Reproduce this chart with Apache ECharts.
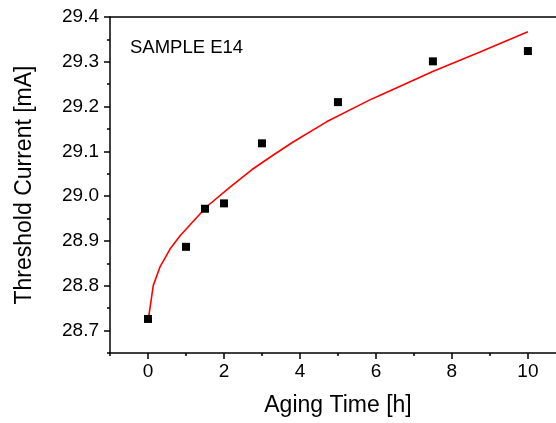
<!DOCTYPE html>
<html>
<head>
<meta charset="utf-8">
<script src="https://cdn.jsdelivr.net/npm/echarts@6/dist/echarts.min.js"></script>
<style>html,body{margin:0;padding:0;background:#fff;}#c{width:556px;height:423px;}</style>
</head>
<body>
<div id="c"></div>
<script>
// Measured data points
const agingTime = [0, 1, 1.5, 2, 3, 5, 7.5, 10];
const thresholdCurrent = [28.726, 28.887, 28.972, 28.984, 29.118, 29.21, 29.301, 29.324];
// Fit curve
const fitX = [0, 0.14, 0.32, 0.58, 0.84, 1.15, 1.55, 2.16, 2.73, 3.3, 3.82, 4.7, 5.84, 6.1, 7.51, 8.74, 10];
const fitY = [28.72, 28.801, 28.843, 28.882, 28.911, 28.94, 28.977, 29.02, 29.059, 29.092, 29.121, 29.166, 29.215, 29.225, 29.279, 29.322, 29.367];
// Ticks
const xMajorTicks = [0, 2, 4, 6, 8, 10];
const xMinorTicks = [-1, 1, 3, 5, 7, 9];
const yMajorTicks = [28.7, 28.8, 28.9, 29.0, 29.1, 29.2, 29.3, 29.4];
const yMinorTicks = [28.65, 28.75, 28.85, 28.95, 29.05, 29.15, 29.25, 29.35];
const sampleLabel = 'SAMPLE E14';

const FONT = 'Liberation Sans, Arial, sans-serif';
const black = '#000';
const chart = echarts.init(document.getElementById('c'));
const xr = {min: -1, max: 10.74};
const yr = {min: 28.65, max: 29.4};

chart.setOption({
  animation: false,
  backgroundColor: '#fff',
  grid: {left: 110, top: 17, bottom: 70, right: 0, containLabel: false},
  xAxis: [
    {
      type: 'value', position: 'bottom', ...xr,
      name: 'Aging Time [h]', nameLocation: 'middle', nameGap: 41,
      nameTextStyle: {fontFamily: FONT, fontSize: 23, color: black, padding: [0, 0, 0, 10]},
      axisLine: {show: true, onZero: false, lineStyle: {color: black, width: 1.5}},
      axisTick: {show: true, inside: false, length: 6, customValues: xMajorTicks, lineStyle: {color: black, width: 1.5}},
      axisLabel: {show: true, margin: 9, customValues: xMajorTicks, fontFamily: FONT, fontSize: 19, color: black},
      splitLine: {show: false}
    },
    {
      type: 'value', position: 'bottom', ...xr,
      axisLine: {show: false, onZero: false},
      axisTick: {show: true, inside: false, length: 3, customValues: xMinorTicks, lineStyle: {color: black, width: 1.5}},
      axisLabel: {show: false},
      splitLine: {show: false}
    },
    {
      type: 'value', position: 'top', ...xr,
      axisLine: {show: true, onZero: false, lineStyle: {color: black, width: 1.5}},
      axisTick: {show: false}, axisLabel: {show: false}, splitLine: {show: false}
    }
  ],
  yAxis: [
    {
      type: 'value', position: 'left', ...yr,
      name: 'Threshold Current [mA]', nameLocation: 'middle', nameGap: 74, nameRotate: 90,
      nameTextStyle: {fontFamily: FONT, fontSize: 23, color: black},
      axisLine: {show: true, onZero: false, lineStyle: {color: black, width: 1.5}},
      axisTick: {show: true, inside: false, length: 6, customValues: yMajorTicks, lineStyle: {color: black, width: 1.5}},
      axisLabel: {show: true, margin: 11, customValues: yMajorTicks, fontFamily: FONT, fontSize: 19, color: black,
        formatter: v => v.toFixed(1)},
      splitLine: {show: false}
    },
    {
      type: 'value', position: 'left', ...yr,
      axisLine: {show: false, onZero: false},
      axisTick: {show: true, inside: false, length: 3, customValues: yMinorTicks, lineStyle: {color: black, width: 1.5}},
      axisLabel: {show: false},
      splitLine: {show: false}
    }
  ],
  title: {
    text: sampleLabel, left: 125, top: 33,
    textStyle: {fontFamily: FONT, fontSize: 18.5, fontWeight: 'normal', color: black}
  },
  series: [
    {
      type: 'line', xAxisIndex: 0, yAxisIndex: 0,
      data: fitX.map((x, i) => [x, fitY[i]]),
      showSymbol: false, smooth: false,
      lineStyle: {color: '#ff0000', width: 1.6}, z: 2
    },
    {
      type: 'scatter', xAxisIndex: 0, yAxisIndex: 0,
      data: agingTime.map((x, i) => [x, thresholdCurrent[i]]),
      symbol: 'rect', symbolSize: 8,
      itemStyle: {color: black, opacity: 1}, z: 3
    }
  ]
});
</script>
</body>
</html>
